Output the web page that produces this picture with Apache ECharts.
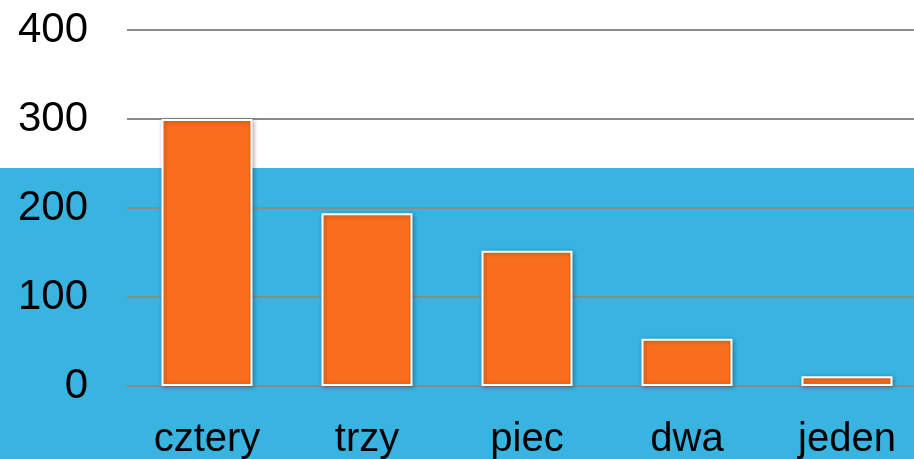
<!DOCTYPE html>
<html>
<head>
<meta charset="utf-8">
<script src="https://cdn.jsdelivr.net/npm/echarts@6/dist/echarts.min.js"></script>
<style>
  html, body { margin: 0; padding: 0; background: #fff; }
  #chart { width: 914px; height: 459px; }
</style>
</head>
<body>
<div id="chart"></div>
<script>
// dane
const categories = ['cztery', 'trzy', 'piec', 'dwa', 'jeden'];
const values = [300, 194, 152, 53, 11];
const yTicks = [0, 100, 200, 300, 400];

const chart = echarts.init(document.getElementById('chart'));

const option = {
  animation: false,
  backgroundColor: '#ffffff',
  // niebieskie tło w dolnej części
  graphic: [{
    type: 'rect',
    z: -10,
    silent: true,
    shape: { x: 0, y: 168, width: 914, height: 291 },
    style: { fill: '#39b3e0' }
  }],
  grid: { left: 127, top: 30, width: 800, height: 356, outerBoundsMode: 'none', containLabel: false },
  xAxis: {
    type: 'category',
    data: categories,
    axisTick: { show: false },
    axisLine: { show: true, lineStyle: { color: '#8a8a8a', width: 2 } },
    axisLabel: {
      color: '#000',
      fontSize: 40,
      fontFamily: 'Liberation Sans',
      margin: 34
    }
  },
  yAxis: {
    type: 'value',
    min: yTicks[0],
    max: yTicks[yTicks.length - 1],
    interval: 100,
    axisLine: { show: false },
    axisTick: { show: false },
    splitLine: { lineStyle: { color: '#8a8a8a', width: 2 } },
    axisLabel: {
      color: '#000',
      fontSize: 42,
      fontFamily: 'Liberation Sans',
      margin: 39
    }
  },
  series: [{
    type: 'bar',
    data: values,
    barWidth: 91,
    itemStyle: {
      color: '#f96d1e',
      borderColor: '#ffffff',
      borderWidth: 2,
      shadowBlur: 4,
      shadowColor: 'rgba(0,0,0,0.3)',
      shadowOffsetX: 1,
      shadowOffsetY: 1
    }
  }]
};

chart.setOption(option);
</script>
</body>
</html>
